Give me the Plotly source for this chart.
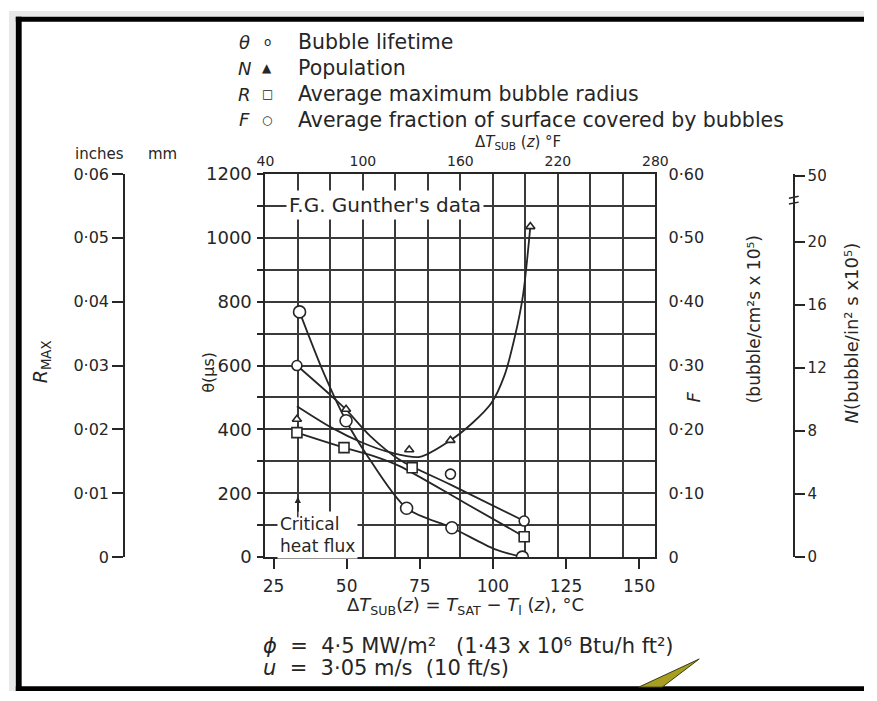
import plotly.graph_objects as go

FIG_W, FIG_H = 877, 701
INK = "#262626"
GRID = "#3a3a3a"
FONT = "DejaVu Sans"


def fx(x):
    return x / FIG_W


def fy(y):
    return 1 - y / FIG_H


# ---- readings against subcooling (deg C) ----
# bubble lifetime theta, microseconds (left axis)
theta_dT = [33.0, 85.5, 110.7]
theta_us = [600, 260, 113]
theta_line_dT = [33.0, 44.4, 49.8, 58.0, 68.1, 85.5, 110.7]
theta_line_us = [600, 508, 462, 380, 305, 227, 113]

# population N, bubbles / in^2 s x 1e5 (far right axis)
n_dT = [33.0, 49.8, 71.4, 85.5, 112.8]
n_val = [8.75, 9.38, 6.81, 7.41, 20.97]
n_line_dT = [33.0, 45.0, 55.0, 65.0, 75.0, 85.5, 93.0, 99.5, 104.0, 107.5, 110.3, 112.8]
n_line_val = [9.58, 8.20, 7.29, 6.64, 6.36, 7.41, 8.51, 9.78, 11.55, 13.98, 16.61, 20.97]

# average maximum bubble radius, inches (far left axis)
r_dT = [33.0, 49.1, 72.4, 110.7]
r_in = [0.0195, 0.01715, 0.0140, 0.0032]
r_line_dT = [33.0, 49.1, 60.0, 68.1, 90.0, 110.7]
r_line_in = [0.0195, 0.01715, 0.0157, 0.01425, 0.0086, 0.0032]

# average fraction of surface covered by bubbles (right axis)
f_dT = [33.9, 49.8, 70.5, 86.0, 110.1]
f_val = [0.384, 0.2135, 0.0765, 0.046, 0.0]
f_line_dT = [33.9, 42.0, 49.8, 56.9, 70.5, 86.0, 100.6, 110.1]
f_line_val = [0.384, 0.29, 0.2135, 0.16, 0.0765, 0.046, 0.0125, 0.0]

# ---- axis ticks ----
degC_ticks = [25, 50, 75, 100, 125, 150]
degF_ticks = [40, 100, 160, 220, 280]
theta_ticks = [0, 200, 400, 600, 800, 1000, 1200]
f_ticks = [0, 0.1, 0.2, 0.3, 0.4, 0.5, 0.6]
f_labels = ["0", "0·10", "0·20", "0·30", "0·40", "0·50", "0·60"]
r_in_ticks = [0, 0.01, 0.02, 0.03, 0.04, 0.05, 0.06]
r_in_labels = ["0", "0·01", "0·02", "0·03", "0·04", "0·05", "0·06"]
r_mm_ticks = [0, 0.5, 1.0, 1.5]
r_mm_labels = ["0", "0·5", "1", "1·5"]
n_in_ticks = [0, 4, 8, 12, 16, 20, 24.18]
n_in_labels = ["0", "4", "8", "12", "16", "20", "50"]
n_cm_ticks = [0, 6.4516, 12.903, 19.355]
n_cm_labels = ["0", "1", "2", "3"]

X_RANGE = [22.222, 155.556]   # = 40 .. 280 deg F
X_DOM = [fx(263), fx(663)]
Y_DOM = [fy(563), fy(168)]

fig = go.Figure()

line_style = dict(color=INK, width=1.8, shape="spline", smoothing=0.8)


def marker(symbol, size):
    return dict(symbol=symbol, size=size, color="white",
                line=dict(color=INK, width=1.6))


# curves
fig.add_trace(go.Scatter(x=f_line_dT, y=f_line_val, mode="lines", line=line_style,
                         xaxis="x", yaxis="y2", hoverinfo="skip"))
fig.add_trace(go.Scatter(x=theta_line_dT, y=theta_line_us, mode="lines", line=line_style,
                         xaxis="x", yaxis="y", hoverinfo="skip"))
fig.add_trace(go.Scatter(x=r_line_dT, y=r_line_in, mode="lines", line=line_style,
                         xaxis="x", yaxis="y5", hoverinfo="skip"))
fig.add_trace(go.Scatter(x=n_line_dT, y=n_line_val, mode="lines", line=line_style,
                         xaxis="x", yaxis="y3", hoverinfo="skip"))

# measured points
fig.add_trace(go.Scatter(x=f_dT, y=f_val, mode="markers", marker=marker("circle", 12),
                         xaxis="x", yaxis="y2"))
fig.add_trace(go.Scatter(x=theta_dT, y=theta_us, mode="markers", marker=marker("circle", 10),
                         xaxis="x", yaxis="y"))
fig.add_trace(go.Scatter(x=r_dT, y=r_in, mode="markers", marker=marker("square", 10),
                         xaxis="x", yaxis="y5"))
fig.add_trace(go.Scatter(x=n_dT, y=n_val, mode="markers", marker=marker("triangle-up", 8),
                         xaxis="x", yaxis="y3"))
# keeps the deg F axis (and its grid) in the drawing
fig.add_trace(go.Scatter(x=[40, 280], y=[0, 0], mode="lines", line=dict(width=0),
                         xaxis="x2", yaxis="y", hoverinfo="skip"))

grid_minor = dict(showgrid=True, gridcolor=GRID, gridwidth=1.6)

fig.update_layout(
    width=FIG_W, height=FIG_H,
    margin=dict(l=0, r=0, t=0, b=0),
    paper_bgcolor="white", plot_bgcolor="white",
    showlegend=False,
    font=dict(family=FONT, color=INK),
    xaxis=dict(domain=X_DOM, range=X_RANGE, tickvals=degC_ticks, ticks="outside",
               ticklen=10, tickwidth=1.6, tickcolor=INK, showgrid=False, zeroline=False,
               showline=True, linecolor=INK, linewidth=2,
               tickfont=dict(family=FONT, size=17, color=INK),
               anchor="y", ticklabelstandoff=2),
    xaxis2=dict(overlaying="x", side="top", range=[40, 280], tickvals=degF_ticks,
                ticks="", showgrid=True, gridcolor=GRID, gridwidth=1.6, zeroline=False,
                minor=dict(tick0=40, dtick=20, **grid_minor),
                showline=True, linecolor=INK, linewidth=2,
                tickfont=dict(family=FONT, size=14, color=INK), anchor="y",
                ticklabelstandoff=0),
    yaxis=dict(domain=Y_DOM, range=[0, 1200], tickvals=theta_ticks,
               ticks="outside", ticklen=6, tickwidth=1.6, tickcolor=INK,
               showgrid=True, gridcolor=GRID, gridwidth=1.6, zeroline=False,
               minor=dict(tick0=0, dtick=100, ticks="outside", ticklen=6,
                          tickcolor=INK, tickwidth=1.6, **grid_minor),
               showline=True, linecolor=INK, linewidth=2,
               tickfont=dict(family=FONT, size=18, color=INK), ticklabelstandoff=2),
    yaxis2=dict(overlaying="y", side="right", range=[0, 0.6], tickvals=f_ticks,
                ticktext=f_labels, ticks="", showgrid=False, zeroline=False,
                showline=True, linecolor=INK, linewidth=2,
                tickfont=dict(family=FONT, size=16, color=INK), ticklabelstandoff=8),
    yaxis3=dict(overlaying="y", anchor="free", position=fx(805), side="right",
                range=[0, 24.31], tickvals=n_in_ticks, ticktext=n_in_labels,
                ticks="outside", ticklen=10, tickwidth=1.5, tickcolor=INK,
                showgrid=False, zeroline=False, showline=True, linecolor=INK,
                linewidth=1.6, tickfont=dict(family=FONT, size=15, color=INK)),
    yaxis4=dict(overlaying="y", anchor="free", position=fx(805), side="left",
                range=[0, 24.31], tickvals=n_cm_ticks, ticktext=n_cm_labels,
                ticks="outside", ticklen=10, tickwidth=1.5, tickcolor=INK,
                showgrid=False, zeroline=False, showline=False,
                tickfont=dict(family=FONT, size=15, color=INK)),
    yaxis5=dict(overlaying="y", anchor="free", position=fx(118), side="left",
                range=[0, 0.06], tickvals=r_in_ticks, ticktext=r_in_labels,
                ticks="outside", ticklen=11, tickwidth=1.5, tickcolor=INK,
                showgrid=False, zeroline=False, showline=True, linecolor=INK,
                linewidth=1.6, tickfont=dict(family=FONT, size=16, color=INK)),
    yaxis6=dict(overlaying="y", anchor="free", position=fx(118), side="right",
                range=[0, 1.524], tickvals=r_mm_ticks, ticktext=r_mm_labels,
                ticks="outside", ticklen=11, tickwidth=1.5, tickcolor=INK,
                showgrid=False, zeroline=False, showline=False,
                tickfont=dict(family=FONT, size=16, color=INK)),
)


def note(x, y, text, size=17, xanchor="center", yanchor="middle", angle=0, **kw):
    return dict(x=fx(x), y=fy(y), xref="paper", yref="paper", text=text,
                showarrow=False, font=dict(family=FONT, size=size, color=INK),
                xanchor=xanchor, yanchor=yanchor, textangle=angle, **kw)


notes = []
# key
key_rows = [
    ("<i>θ</i>", "o", "Bubble lifetime"),
    ("<i>N</i>", "▲", "Population"),
    ("<i>R</i>", "□", "Average maximum bubble radius"),
    ("<i>F</i>", "○", "Average fraction of surface covered by bubbles"),
]
for (sym, glyph, label), yrow in zip(key_rows, [32, 59, 86, 112]):
    notes.append(note(242, yrow, sym, size=18))
    notes.append(note(265, yrow, glyph, size=12))
    notes.append(note(294, yrow, label, size=20.5, xanchor="left"))

notes += [
    note(522, 136, "Δ<i>T</i><sub>SUB</sub> (<i>z</i>) °F", size=15),
    note(93, 147, "inches", size=15),
    note(157, 147, "mm", size=15),
    note(33, 362, "<i>R</i><sub>MAX</sub>", size=19, angle=-90),
    note(205, 372, "θ(µs)", size=16, angle=-90),
    note(702, 398, "<i>F</i>", size=18, angle=-90),
    note(765, 318, "(bubble/cm²s x 10⁵)", size=17, angle=-90),
    note(864, 332, "<i>N</i>(bubble/in² s x10⁵)", size=18, angle=-90),
    note(468, 613, "Δ<i>T</i><sub>SUB</sub>(<i>z</i>) = <i>T</i><sub>SAT</sub> − "
         "<i>T</i><sub>l</sub> (<i>z</i>), °C", size=18),
    note(258, 655, "<i>ϕ</i>&nbsp; = &nbsp;4·5 MW/m²&nbsp;&nbsp;&nbsp;(1·43 x 10⁶ Btu/h ft²)",
         size=21, xanchor="left"),
    note(258, 677, "<i>u</i>&nbsp; = &nbsp;3·05 m/s&nbsp;&nbsp;(10 ft/s)", size=21,
         xanchor="left"),
    note(386, 200, "F.G. Gunther's data", size=20, bgcolor="white", borderpad=2),
    note(275, 540, "Critical<br>heat flux", size=17, xanchor="left", align="left",
         bgcolor="white", borderpad=2),
]
# arrow marking the critical heat flux
notes.append(dict(x=33.3, y=189, xref="x", yref="y", text="", showarrow=True,
                  ax=0, ay=22, arrowhead=2, arrowsize=0.9, arrowwidth=1.4,
                  arrowcolor=INK))
fig.update_layout(annotations=notes)

shapes = [
    # scanner margin and black frame
    dict(type="rect", xref="paper", yref="paper", x0=0, x1=fx(7), y0=0, y1=1,
         fillcolor="#e8e8e8", line_width=0, layer="above"),
    dict(type="rect", xref="paper", yref="paper", x0=0, x1=1, y0=fy(6), y1=1,
         fillcolor="#e8e8e8", line_width=0, layer="above"),
    dict(type="rect", xref="paper", yref="paper", x0=fx(7), x1=1, y0=fy(11), y1=fy(6),
         fillcolor="black", line_width=0, layer="above"),
    dict(type="rect", xref="paper", yref="paper", x0=fx(7), x1=fx(13), y0=0, y1=fy(6),
         fillcolor="black", line_width=0, layer="above"),
    dict(type="rect", xref="paper", yref="paper", x0=fx(7), x1=1, y0=0, y1=fy(696),
         fillcolor="black", line_width=0, layer="above"),
    # pointer wedge at the lower edge
    dict(type="path", xref="paper", yref="paper",
         path=f"M {fx(646)} {fy(697)} L {fx(708)} {fy(668)} L {fx(670)} {fy(697)} Z",
         fillcolor="#a79f22", line=dict(color="#3a3a10", width=1), layer="above"),
    # break marks on the population scale
    dict(type="line", xref="paper", yref="paper", x0=fx(800), x1=fx(810),
         y0=fy(193), y1=fy(191), line=dict(color=INK, width=1.4)),
    dict(type="line", xref="paper", yref="paper", x0=fx(800), x1=fx(810),
         y0=fy(199), y1=fy(197), line=dict(color=INK, width=1.4)),
    dict(type="line", xref="paper", yref="paper", x0=fx(805), x1=fx(816),
         y0=fy(170), y1=fy(170), line=dict(color=INK, width=1.5)),
]
fig.update_layout(shapes=shapes)

fig.write_html("out.html")
